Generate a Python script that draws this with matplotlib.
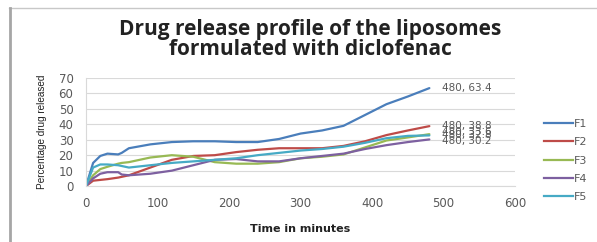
import matplotlib.pyplot as plt
from matplotlib.lines import Line2D

# time points (minutes)
t = [0, 10, 20, 30, 45, 50, 60, 90, 120, 150, 180, 210, 240, 270, 300, 330, 360, 390, 420, 450, 480]

f1 = [0, 15, 19.5, 21, 20.5, 21.5, 24.5, 27, 28.5, 29, 29, 28.5, 28.5, 30.5, 34, 36, 39, 46, 53, 58, 63.4]
f2 = [0, 3.5, 4, 4.5, 5.5, 6, 7, 12, 17, 19.5, 20, 22, 23.5, 24.5, 24.5, 24.5, 26, 29, 33, 36, 38.8]
f3 = [0, 7, 11, 12.5, 14.5, 15, 15.5, 18.5, 20, 19, 15.5, 14.5, 14.5, 15.5, 18, 19, 20.5, 25, 29.5, 31.5, 33.6]
f4 = [0, 5, 8, 9, 9, 7.5, 7, 8, 10, 13.5, 17, 17.5, 16, 16, 18, 19.5, 21, 24, 26.5, 28.5, 30.2]
f5 = [0, 12, 14, 14, 13.5, 13, 12, 13.5, 15, 16, 17, 18, 20, 21.5, 23, 24, 25.5, 28, 31, 32.5, 32.8]

series = [f1, f2, f3, f4, f5]
names = ['F1', 'F2', 'F3', 'F4', 'F5']
colors = ['#4a7ebb', '#be4b48', '#98b954', '#7d60a0', '#46aac5']

fig = plt.figure(figsize=(5.97, 2.42), dpi=100)
ax = fig.add_axes([0.144, 0.231, 0.719, 0.447])

for y, c in zip(series, colors):
    ax.plot(t, y, color=c, linewidth=1.6, solid_capstyle='round')

# end-point labels
offs = [0, 0, 1.2, -1.2, 0]
for y, d in zip(series, offs):
    ax.annotate('%d, %.1f' % (t[-1], y[-1]), (t[-1], y[-1] + d), xytext=(9, 0),
                textcoords='offset points', va='center', ha='left',
                fontsize=7.5, color='#595959')

ax.set_xlim(0, 600)
ax.set_ylim(0, 70)
ax.set_xticks(range(0, 601, 100))
ax.set_yticks(range(0, 71, 10))
ax.tick_params(length=0, labelsize=8.5, labelcolor='#595959')
ax.tick_params(axis='y', pad=9)
ax.tick_params(axis='x', pad=8)
ax.grid(axis='y', color='#d9d9d9', linewidth=0.8)
ax.set_axisbelow(True)
for s in ['top', 'right']:
    ax.spines[s].set_visible(False)
for s in ['left', 'bottom']:
    ax.spines[s].set_color('#d9d9d9')

ax.set_xlabel('Time in minutes', fontsize=8, fontweight='bold', color='#222222', labelpad=10)
ax.set_ylabel('Percentage drug released', fontsize=7.2, color='#222222',
              family='Liberation Sans', labelpad=8)

fig.text(0.52, 0.838, 'Drug release profile of the liposomes\nformulated with diclofenac',
         ha='center', va='center', fontsize=15, fontweight='bold', family='Open Sans',
         color='#222222', linespacing=0.95)

handles = [Line2D([], [], color=c, linewidth=1.6) for c in colors]
fig.legend(handles, names, loc='upper left', bbox_to_anchor=(0.895, 0.55),
           frameon=False, fontsize=8, labelcolor='#595959', handlelength=2.6,
           handletextpad=0.1, labelspacing=0.75)

# outer chart frame (top and left edges)
fig.add_artist(Line2D([0.015, 1.0], [0.967, 0.967], color='#c8c8c8', linewidth=1.0))
fig.add_artist(Line2D([0.016, 0.016], [0.0, 0.967], color='#a6a6a6', linewidth=2.0))

fig.savefig('out.png', dpi=100)
